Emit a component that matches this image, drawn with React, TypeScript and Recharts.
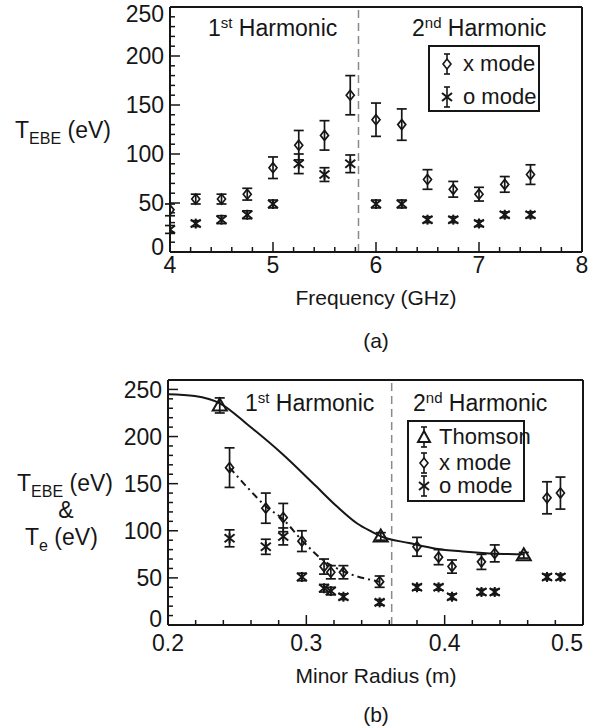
import { ComposedChart, Scatter, Line, XAxis, YAxis, ErrorBar, ReferenceLine } from "recharts";

const FONT = '"Liberation Sans", Arial, Helvetica, sans-serif';
const INK = "#161616";

// (a) EBE temperature vs frequency
const freqA = [4.0, 4.25, 4.5, 4.75, 5.0, 5.25, 5.5, 5.75, 6.0, 6.25, 6.5, 6.75, 7.0, 7.25, 7.5];
const xModeA = [43, 54, 54, 59, 86, 109, 119, 160, 135, 130, 74, 64, 59, 69, 79];
const xErrA = [6, 5, 5, 6, 11, 15, 15, 20, 17, 16, 10, 8, 7, 8, 10];
const oModeA = [23, 29, 33, 38, 49, 90, 79, 90, 49, 49, 33, 33, 29, 38, 38];
const oErrA = [4, 3, 4, 4, 4, 10, 7, 9, 4, 4, 3, 3, 3, 3, 3];
const harmonicA = 5.83;

// (b) EBE temperature & Thomson Te vs minor radius
const rThomson = [0.2374, 0.3538, 0.4572];
const teThomson = [233, 94, 74];
const errThomson = [8, 4, 3];
const rProfile = [0.2, 0.2194, 0.2378, 0.2581, 0.2823, 0.3065, 0.322, 0.3365, 0.3472, 0.354, 0.3743, 0.3936, 0.413, 0.4324, 0.4575];
const teProfile = [245, 243, 235, 212, 182, 148, 126, 108, 99, 94, 87, 81, 78, 76, 75];
const rModes = [0.2445, 0.2707, 0.2833, 0.2968, 0.3128, 0.3177, 0.3268, 0.353, 0.38, 0.3956, 0.4053, 0.4266, 0.4362, 0.474, 0.4837];
const xModeB = [167, 124, 114, 89, 62, 56, 56, 46, 83, 72, 62, 67, 76, 135, 140];
const xErrB = [21, 16, 15, 11, 8, 7, 7, 6, 10, 8, 7, 8, 9, 17, 17];
const oModeB = [92, 83, 94, 51, 39, 36, 30, 24, 40, 40, 30, 35, 35, 51, 51];
const oErrB = [9, 8, 9, 4, 4, 4, 3, 3, 3, 3, 3, 3, 3, 3, 3];
const rFit = [0.2445, 0.258, 0.2707, 0.2833, 0.2968, 0.3128, 0.3268, 0.353];
const fitB = [167, 145, 126, 112, 90, 68, 57, 46];
const harmonicB = 0.3617;

// ticks
const yTicks = [0, 10, 20, 30, 40, 50, 60, 70, 80, 90, 100, 110, 120, 130, 140, 150, 160, 170, 180, 190, 200, 210, 220, 230, 240, 250];
const freqTicks = [4, 4.2, 4.4, 4.6, 4.8, 5, 5.2, 5.4, 5.6, 5.8, 6, 6.2, 6.4, 6.6, 6.8, 7, 7.2, 7.4, 7.6, 7.8, 8];
const radiusTicks = [0.2, 0.22, 0.24, 0.26, 0.28, 0.3, 0.32, 0.34, 0.36, 0.38, 0.4, 0.42, 0.44, 0.46, 0.48, 0.5];

const pts = (xs: number[], ys: number[], errs?: number[]) =>
  xs.map((x, i) => ({ x, y: ys[i], err: errs ? errs[i] : 0 }));

const near = (v: number, step: number) => Math.abs(v / step - Math.round(v / step)) < 1e-6;

const Diamond = (p: any) => {
  const { cx, cy } = p;
  if (cx == null || cy == null) return <g />;
  return (
    <polygon
      points={`${cx},${cy - 5} ${cx + 4},${cy} ${cx},${cy + 5} ${cx - 4},${cy}`}
      fill="none"
      stroke={INK}
      strokeWidth={1.7}
    />
  );
};

const Star = (p: any) => {
  const { cx, cy } = p;
  if (cx == null || cy == null) return <g />;
  return (
    <g stroke={INK} strokeWidth={2}>
      <line x1={cx - 5} y1={cy - 4} x2={cx + 5} y2={cy + 4} />
      <line x1={cx - 5} y1={cy + 4} x2={cx + 5} y2={cy - 4} />
      <line x1={cx} y1={cy - 5} x2={cx} y2={cy + 5} />
    </g>
  );
};

const Triangle = (p: any) => {
  const { cx, cy } = p;
  if (cx == null || cy == null) return <g />;
  return (
    <polygon
      points={`${cx},${cy - 7} ${cx + 7},${cy + 5} ${cx - 7},${cy + 5}`}
      fill="none"
      stroke={INK}
      strokeWidth={2}
    />
  );
};

type Side = "bottom" | "top" | "left" | "right";

// inward ticks; labels only on majors. nudge: per-value vertical shift of left labels
const tickFor =
  (
    side: Side,
    majorStep: number,
    fmt?: (v: number) => string,
    labelDy = 20,
    lastAnchorEnd?: number,
    nudge?: Record<string, number>
  ) =>
  (props: any) => {
    const { x, y, payload } = props;
    const v = Number(payload.value);
    const major = near(v, majorStep);
    const len = major ? 10 : 5;
    let ln;
    if (side === "bottom") ln = <line x1={x} y1={y} x2={x} y2={y - len} />;
    else if (side === "top") ln = <line x1={x} y1={y} x2={x} y2={y + len} />;
    else if (side === "left") ln = <line x1={x} y1={y} x2={x + len} y2={y} />;
    else ln = <line x1={x} y1={y} x2={x - len} y2={y} />;
    let label = null;
    if (fmt && major) {
      if (side === "bottom") {
        const end = lastAnchorEnd != null && Math.abs(v - lastAnchorEnd) < 1e-6;
        label = (
          <text x={x} y={y + labelDy} textAnchor={end ? "end" : "middle"} fontSize={23} fontFamily={FONT} fill={INK} stroke="none">
            {fmt(v)}
          </text>
        );
      } else if (side === "left") {
        const shift = nudge && nudge[String(v)] ? nudge[String(v)] : 0;
        label = (
          <text x={x - 6} y={y + shift} dy="0.36em" textAnchor="end" fontSize={23} fontFamily={FONT} fill={INK} stroke="none">
            {fmt(v)}
          </text>
        );
      }
    }
    return (
      <g stroke={INK} strokeWidth={1.5}>
        {ln}
        {label}
      </g>
    );
  };

const axisLine = { stroke: INK, strokeWidth: 2 };

function Txt({ x, y, children, center, size = 23 }: any) {
  return (
    <div
      style={{
        position: "absolute",
        left: x,
        top: y,
        transform: center ? "translate(-50%, -50%)" : "translateY(-50%)",
        fontSize: size,
        lineHeight: 1,
        whiteSpace: "nowrap",
        color: INK,
      }}
    >
      {children}
    </div>
  );
}

const Sup = ({ children }: any) => (
  <span style={{ fontSize: 15, position: "relative", top: -8 }}>{children}</span>
);
const Sub = ({ children }: any) => (
  <span style={{ fontSize: 16, position: "relative", top: 6 }}>{children}</span>
);

const LegendIcon = ({ kind }: { kind: string }) => (
  <svg width={18} height={26} style={{ position: "absolute", left: -9, top: -13 }}>
    <g stroke={INK} strokeWidth={1.6} fill="none">
      <line x1={9} y1={3} x2={9} y2={23} />
      <line x1={6} y1={3} x2={12} y2={3} />
      <line x1={6} y1={23} x2={12} y2={23} />
      {kind === "diamond" && <polygon points="9,8 13,13 9,18 5,13" fill="#fff" />}
      {kind === "star" && (
        <g strokeWidth={2}>
          <line x1={4} y1={9} x2={14} y2={17} />
          <line x1={4} y1={17} x2={14} y2={9} />
        </g>
      )}
      {kind === "triangle" && <polygon points="9,7 15,18 3,18" fill="#fff" strokeWidth={2} />}
    </g>
  </svg>
);

function LegendBox({ left, top, width, height, rows, iconX, textX }: any) {
  return (
    <div
      style={{
        position: "absolute",
        left,
        top,
        width,
        height,
        border: `2px solid ${INK}`,
        boxSizing: "border-box",
        background: "#fff",
      }}
    >
      {rows.map((r: any) => (
        <div key={r.label}>
          <div style={{ position: "absolute", left: iconX, top: r.y }}>
            <LegendIcon kind={r.kind} />
          </div>
          <div
            style={{
              position: "absolute",
              left: textX,
              top: r.y,
              transform: "translateY(-50%)",
              fontSize: 22,
              lineHeight: 1,
              whiteSpace: "nowrap",
            }}
          >
            {r.label}
          </div>
        </div>
      ))}
    </div>
  );
}

export default function App() {
  const xA = pts(freqA, xModeA, xErrA);
  const oA = pts(freqA, oModeA, oErrA);
  const thomson = pts(rThomson, teThomson, errThomson);
  const profile = pts(rProfile, teProfile);
  const xB = pts(rModes, xModeB, xErrB);
  const oB = pts(rModes, oModeB, oErrB);
  const fit = pts(rFit, fitB);

  return (
    <div
      style={{
        position: "absolute",
        left: 0,
        top: 0,
        width: 597,
        height: 728,
        background: "#fff",
        fontFamily: FONT,
        color: INK,
        overflow: "hidden",
      }}
    >
      {/* panel (a) */}
      <div style={{ position: "absolute", left: 0, top: 0 }}>
        <ComposedChart width={597} height={290} margin={{ top: 0, right: 0, bottom: 0, left: 0 }}>
          <XAxis
            dataKey="x"
            type="number"
            domain={[4, 8]}
            ticks={freqTicks}
            interval={0}
            height={38}
            tickSize={0}
            tickMargin={0}
            axisLine={axisLine}
            tickLine={false}
            tick={tickFor("bottom", 1, (v) => String(v), 21)}
            allowDataOverflow
          />
          <XAxis
            xAxisId="t"
            orientation="top"
            type="number"
            domain={[4, 8]}
            ticks={freqTicks}
            interval={0}
            height={7}
            tickSize={0}
            tickMargin={0}
            axisLine={axisLine}
            tickLine={false}
            tick={tickFor("top", 1)}
          />
          <YAxis
            dataKey="y"
            type="number"
            domain={[0, 250]}
            ticks={yTicks}
            interval={0}
            width={170}
            tickSize={0}
            tickMargin={0}
            axisLine={axisLine}
            tickLine={false}
            tick={tickFor("left", 50, (v) => String(v), 20, undefined, { "250": 7, "0": -5 })}
            allowDataOverflow
          />
          <YAxis
            yAxisId="r"
            orientation="right"
            type="number"
            domain={[0, 250]}
            ticks={yTicks}
            interval={0}
            width={15}
            tickSize={0}
            tickMargin={0}
            axisLine={axisLine}
            tickLine={false}
            tick={tickFor("right", 50)}
          />
          <ReferenceLine x={harmonicA} stroke="#8a8a8a" strokeWidth={1.5} strokeDasharray="8 5" />
          <Scatter name="x mode" data={xA} dataKey="y" shape={Diamond} isAnimationActive={false}>
            <ErrorBar dataKey="err" direction="y" width={5} stroke={INK} strokeWidth={1.7} />
          </Scatter>
          <Scatter name="o mode" data={oA} dataKey="y" shape={Star} isAnimationActive={false}>
            <ErrorBar dataKey="err" direction="y" width={5} stroke={INK} strokeWidth={1.7} />
          </Scatter>
        </ComposedChart>
      </div>

      <Txt x={208} y={28}>
        1<Sup>st</Sup> Harmonic
      </Txt>
      <Txt x={412} y={28}>
        2<Sup>nd</Sup> Harmonic
      </Txt>
      <LegendBox
        left={428}
        top={45}
        width={112}
        height={67}
        iconX={17}
        textX={33}
        rows={[
          { label: "x mode", kind: "diamond", y: 17 },
          { label: "o mode", kind: "star", y: 50 },
        ]}
      />
      <Txt x={15} y={130}>
        T<Sub>EBE</Sub> (eV)
      </Txt>
      <Txt x={376} y={297} center size={21}>
        Frequency (GHz)
      </Txt>
      <Txt x={376} y={340} center size={21}>
        (a)
      </Txt>

      {/* panel (b) */}
      <div style={{ position: "absolute", left: 0, top: 360 }}>
        <ComposedChart width={597} height={300} margin={{ top: 0, right: 0, bottom: 0, left: 0 }}>
          <XAxis
            dataKey="x"
            type="number"
            domain={[0.2, 0.5]}
            ticks={radiusTicks}
            interval={0}
            height={35}
            tickSize={0}
            tickMargin={0}
            axisLine={axisLine}
            tickLine={false}
            tick={tickFor("bottom", 0.1, (v) => v.toFixed(1), 26, 0.5)}
            allowDataOverflow
          />
          <XAxis
            xAxisId="t"
            orientation="top"
            type="number"
            domain={[0.2, 0.5]}
            ticks={radiusTicks}
            interval={0}
            height={20}
            tickSize={0}
            tickMargin={0}
            axisLine={axisLine}
            tickLine={false}
            tick={tickFor("top", 0.1)}
          />
          <YAxis
            dataKey="y"
            type="number"
            domain={[0, 260]}
            ticks={yTicks}
            interval={0}
            width={168}
            tickSize={0}
            tickMargin={0}
            axisLine={axisLine}
            tickLine={false}
            tick={tickFor("left", 50, (v) => String(v), 20, undefined, { "0": -6 })}
            allowDataOverflow
          />
          <YAxis
            yAxisId="r"
            orientation="right"
            type="number"
            domain={[0, 260]}
            ticks={yTicks}
            interval={0}
            width={14}
            tickSize={0}
            tickMargin={0}
            axisLine={axisLine}
            tickLine={false}
            tick={tickFor("right", 50)}
          />
          <ReferenceLine x={harmonicB} stroke="#8a8a8a" strokeWidth={1.5} strokeDasharray="8 5" />
          <Line data={profile} dataKey="y" type="monotone" stroke={INK} strokeWidth={2} dot={false} isAnimationActive={false} />
          <Line
            data={fit}
            dataKey="y"
            type="monotone"
            stroke={INK}
            strokeWidth={2}
            strokeDasharray="7 4 2 4"
            dot={false}
            isAnimationActive={false}
          />
          <Scatter name="Thomson" data={thomson} dataKey="y" shape={Triangle} isAnimationActive={false}>
            <ErrorBar dataKey="err" direction="y" width={5} stroke={INK} strokeWidth={1.7} />
          </Scatter>
          <Scatter name="x mode" data={xB} dataKey="y" shape={Diamond} isAnimationActive={false}>
            <ErrorBar dataKey="err" direction="y" width={5} stroke={INK} strokeWidth={1.7} />
          </Scatter>
          <Scatter name="o mode" data={oB} dataKey="y" shape={Star} isAnimationActive={false}>
            <ErrorBar dataKey="err" direction="y" width={5} stroke={INK} strokeWidth={1.7} />
          </Scatter>
        </ComposedChart>
      </div>

      <Txt x={245} y={403}>
        1<Sup>st</Sup> Harmonic
      </Txt>
      <Txt x={413} y={403}>
        2<Sup>nd</Sup> Harmonic
      </Txt>
      <LegendBox
        left={407}
        top={420}
        width={118}
        height={82}
        iconX={15}
        textX={30}
        rows={[
          { label: "Thomson", kind: "triangle", y: 15 },
          { label: "x mode", kind: "diamond", y: 41 },
          { label: "o mode", kind: "star", y: 64 },
        ]}
      />
      <Txt x={17} y={483}>
        T<Sub>EBE</Sub> (eV)
      </Txt>
      <Txt x={66} y={510} center>
        &amp;
      </Txt>
      <Txt x={25} y={537}>
        T<Sub>e</Sub> (eV)
      </Txt>
      <Txt x={376} y={675} center size={21}>
        Minor Radius (m)
      </Txt>
      <Txt x={376} y={714} center size={21}>
        (b)
      </Txt>
    </div>
  );
}
